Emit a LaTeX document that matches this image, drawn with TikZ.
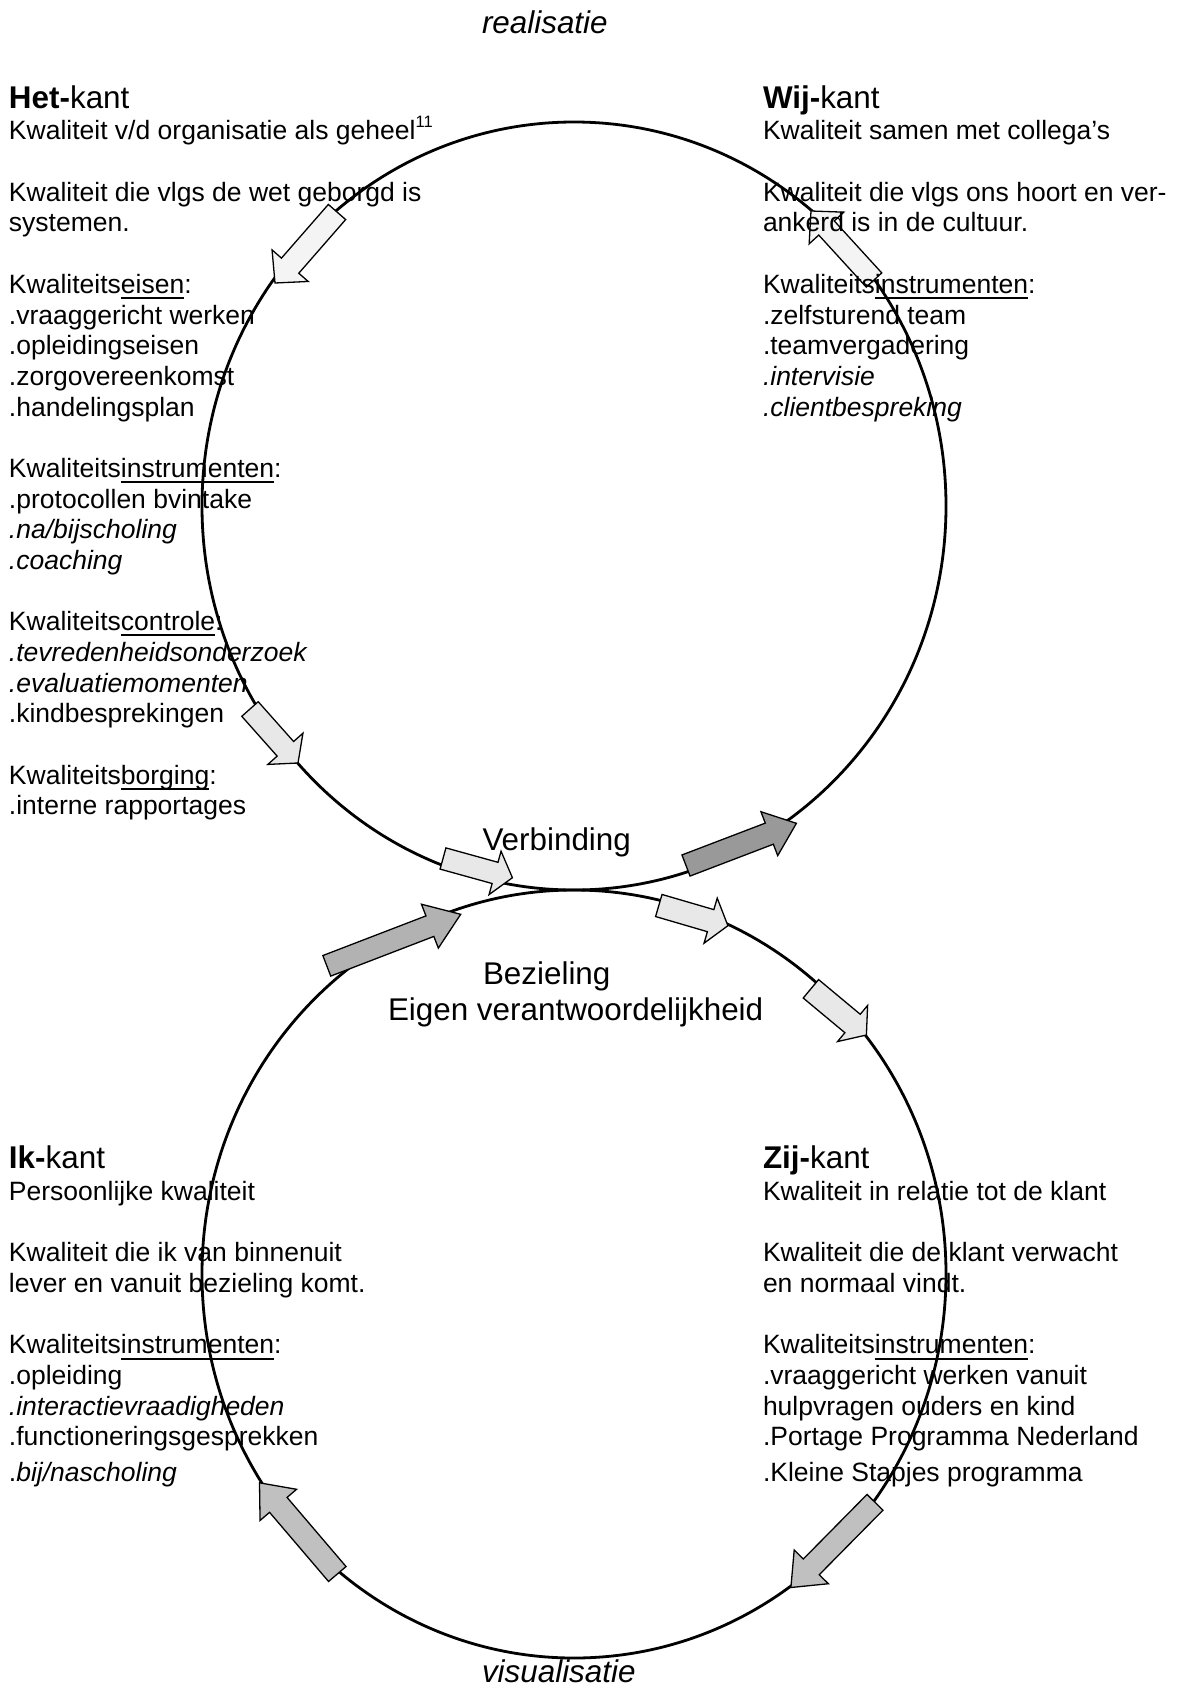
\documentclass[tikz,border=0pt]{standalone}
\usepackage{fontspec}
\setmainfont{Liberation Sans}
\usetikzlibrary{calc,shapes.geometric}
\definecolor{arrA}{HTML}{F4F4F4}
\definecolor{arrB}{HTML}{E8E8E8}
\definecolor{arrC}{HTML}{999999}
\definecolor{arrD}{HTML}{B2B2B2}
\definecolor{arrE}{HTML}{C0C0C0}
\newcommand\ulw[1]{\setbox0\hbox{#1}\rlap{\rule[-5.6pt]{\wd0}{2pt}}\box0}
% #1 tail, #2 tip, #3 shaft half width, #4 head half width, #5 head length, #6 fill
\newcommand\blkarrow[6]{%
  \coordinate (#1-b) at ($(#2)!#5!(#1)$);
  \draw[arrowbody, fill=#6] ($(#1)!#3!90:(#2)$) -- ($(#1-b)!#3!90:(#2)$) -- ($(#1-b)!#4!90:(#2)$) -- (#2)
     -- ($(#1-b)!#4!-90:(#2)$) -- ($(#1-b)!#3!-90:(#2)$) -- ($(#1)!#3!-90:(#2)$) -- cycle;}
\newcommand\tl[4]{\node[txt] (#1) at (#2,#3) {#4};}
\newcommand\hd[4]{\node[hdtxt] (#1) at (#2,#3) {#4};}
\begin{document}
\begin{tikzpicture}[x=1pt,y=-1pt,
  ring/.style={draw=black, line width=2.8pt, ellipse, minimum width=744pt, minimum height=768pt, inner sep=0pt, outer sep=0pt},
  arrowbody/.style={draw=black, line width=1.3pt, line join=miter},
  txt/.style={inner sep=0pt, outer sep=0pt, anchor=base west, font=\fontsize{26.5}{30.68}\selectfont},
  hdtxt/.style={inner sep=0pt, outer sep=0pt, anchor=base west, font=\fontsize{31.4}{36}\selectfont}]
\useasboundingbox (0,0) rectangle (1178,1686);
\fill[white] (0,0) rectangle (1178,1686);
% circles
\node[ring] (topring) at (574,506) {};
\node[ring] (botring) at (574,1274) {};
% arrow end points
\coordinate (t1) at (337,212);   \coordinate (p1) at (275,283);
\coordinate (t2) at (874,280);   \coordinate (p2) at (811,211);
\coordinate (t3) at (250,709);   \coordinate (p3) at (298,763);
\coordinate (t4) at (443,858.5); \coordinate (p4) at (512.4,877.7);
\coordinate (t5) at (686,865.5); \coordinate (p5) at (796.4,823.3);
\coordinate (t6) at (326.8,965.8); \coordinate (p6) at (460.7,914.3);
\coordinate (t7) at (658.8,905.5); \coordinate (p7) at (727.9,925.7);
\coordinate (t8) at (810.9,988.8); \coordinate (p8) at (866.4,1035);
\coordinate (t9) at (875,1502.3); \coordinate (p9) at (790.9,1587.5);
\coordinate (t10) at (337.3,1574); \coordinate (p10) at (259.5,1482.8);
\blkarrow{t1}{p1}{11.5pt}{24pt}{23pt}{arrA}
\blkarrow{t2}{p2}{10.5pt}{23.5pt}{23pt}{arrA}
\blkarrow{t3}{p3}{11pt}{23.5pt}{19pt}{arrB}
\blkarrow{t4}{p4}{11pt}{22.5pt}{18pt}{arrB}
\blkarrow{t5}{p5}{11.3pt}{23.5pt}{29pt}{arrC}
\blkarrow{t6}{p6}{11pt}{23.5pt}{33pt}{arrD}
\blkarrow{t7}{p7}{11.5pt}{23.5pt}{18pt}{arrB}
\blkarrow{t8}{p8}{12pt}{23.5pt}{18pt}{arrB}
\blkarrow{t9}{p9}{11.2pt}{24pt}{29pt}{arrE}
\blkarrow{t10}{p10}{11.5pt}{24pt}{29pt}{arrE}
% centre texts
\node[hdtxt] (real) at (482,33.5) {\itshape realisatie};
\node[hdtxt] (visu) at (482,1682) {\itshape visualisatie};
\node[hdtxt] (verb) at (482.5,850) {Verbinding};
\node[hdtxt] (bez) at (483,984) {Bezieling};
\node[hdtxt] (eigen) at (388,1020.7) {Eigen verantwoordelijkheid};
% Het-kant
\hd{hethd}{9}{108.5}{\textbf{Het-}kant}
\tl{h0}{9}{139.9}{Kwaliteit v/d organisatie als geheel\raisebox{12.5pt}{\fontsize{16.5}{16.5}\selectfont 11}}
\tl{h2}{9}{201.3}{Kwaliteit die vlgs de wet geborgd is}
\tl{h3}{9}{231.9}{systemen.}
\tl{h5}{9}{293.3}{Kwaliteits\ulw{eisen}:}
\tl{h6}{9}{324.0}{.vraaggericht werken}
\tl{h7}{9}{354.7}{.opleidingseisen}
\tl{h8}{9}{385.3}{.zorgovereenkomst}
\tl{h9}{9}{416.0}{.handelingsplan}
\tl{h11}{9}{477.4}{Kwaliteits\ulw{instrumenten}:}
\tl{h12}{9}{508.1}{.protocollen bvintake}
\tl{h13}{9}{538.7}{\itshape .na/bijscholing}
\tl{h14}{9}{569.4}{\itshape .coaching}
\tl{h16}{9}{630.8}{Kwaliteits\ulw{controle}:}
\tl{h17}{9}{661.5}{\itshape .tevredenheidsonderzoek}
\tl{h18}{9}{692.1}{\itshape .evaluatiemomenten}
\tl{h19}{9}{722.8}{.kindbesprekingen}
\tl{h21}{9}{784.2}{Kwaliteits\ulw{borging}:}
\tl{h22}{9}{814.9}{.interne rapportages}
% Wij-kant
\hd{wijhd}{763}{108.5}{\textbf{Wij-}kant}
\tl{w0}{763}{139.9}{Kwaliteit samen met collega’s}
\tl{w2}{763}{201.3}{Kwaliteit die vlgs ons hoort en ver-}
\tl{w3}{763}{231.9}{ankerd is in de cultuur.}
\tl{w5}{763}{293.3}{Kwaliteits\ulw{instrumenten}:}
\tl{w6}{763}{324.0}{.zelfsturend team}
\tl{w7}{763}{354.7}{.teamvergadering}
\tl{w8}{763}{385.3}{\itshape .intervisie}
\tl{w9}{763}{416.0}{\itshape .clientbespreking}
% Ik-kant
\hd{ikhd}{9}{1168.5}{\textbf{Ik-}kant}
\tl{i0}{9}{1200.5}{Persoonlijke kwaliteit}
\tl{i2}{9}{1261.9}{Kwaliteit die ik van binnenuit}
\tl{i3}{9}{1292.5}{lever en vanuit bezieling komt.}
\tl{i5}{9}{1353.9}{Kwaliteits\ulw{instrumenten}:}
\tl{i6}{9}{1384.6}{.opleiding}
\tl{i7}{9}{1415.3}{\itshape .interactievraadigheden}
\tl{i8}{9}{1445.9}{.functioneringsgesprekken}
\tl{i9}{9}{1481}{.\textit{bij/nascholing}}
% Zij-kant
\hd{zijhd}{763}{1168.5}{\textbf{Zij-}kant}
\tl{z0}{763}{1200.5}{Kwaliteit in relatie tot de klant}
\tl{z2}{763}{1261.9}{Kwaliteit die de klant verwacht}
\tl{z3}{763}{1292.5}{en normaal vindt.}
\tl{z5}{763}{1353.9}{Kwaliteits\ulw{instrumenten}:}
\tl{z6}{763}{1384.6}{.vraaggericht werken vanuit}
\tl{z7}{763}{1415.3}{hulpvragen ouders en kind}
\tl{z8}{763}{1445.9}{.Portage Programma Nederland}
\tl{z9}{763}{1481}{.Kleine Stapjes programma}
\end{tikzpicture}
\end{document}
